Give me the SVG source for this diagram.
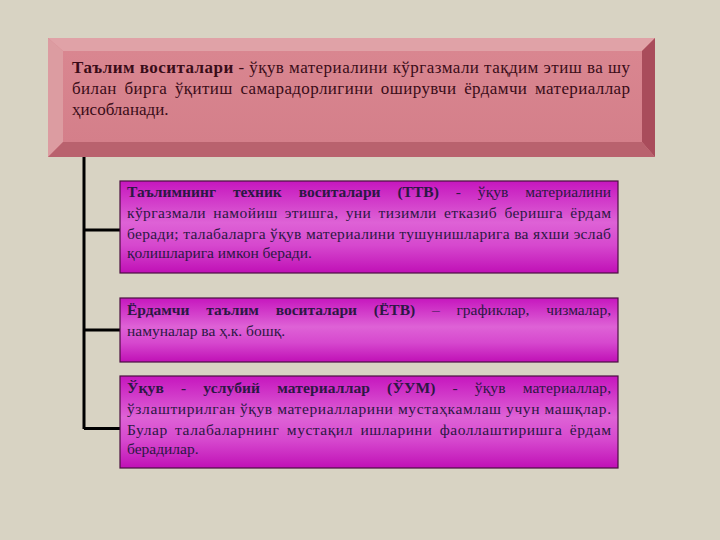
<svg xmlns="http://www.w3.org/2000/svg" width="720" height="540" viewBox="0 0 720 540">
<defs>
<style>
.t{font-family:"Liberation Serif","Times New Roman",serif;}
.top{font-size:17px;fill:#3a0c18;}
.bx{font-size:15.5px;fill:#2c1844;}
.b{font-weight:bold;}
.ws{word-spacing:13px;}
.ws2{word-spacing:3px;}
.conn{stroke:#000;stroke-width:3;fill:none;}
.mag{fill:url(#magGrad);stroke:#4a1040;stroke-width:1.2;}
</style>
<linearGradient id="magGrad" x1="0" y1="0" x2="0" y2="1">
<stop offset="0" stop-color="#c616be"/>
<stop offset="0.45" stop-color="#de62d6"/>
<stop offset="0.7" stop-color="#d648ce"/>
<stop offset="1" stop-color="#c010b6"/>
</linearGradient>
<linearGradient id="faceGrad" x1="0" y1="0" x2="0" y2="1">
<stop offset="0" stop-color="#d98690"/>
<stop offset="1" stop-color="#d47f8a"/>
</linearGradient>
</defs>
<rect width="720" height="540" fill="#d8d3c3"/>
<g id="connectors">
<path class="conn" d="M84 157 V429"/>
<path class="conn" d="M84 230 H120"/>
<path class="conn" d="M84 330 H120"/>
<path class="conn" d="M84 428.5 H120"/>
</g>
<g id="top-node">
<rect x="48" y="38" width="607" height="119" fill="#d8868f"/>
<polygon points="48,38 655,38 642,51 63,51" fill="#e0a2a7"/>
<polygon points="48,38 63,51 63,142 48,157" fill="#dc9ca1"/>
<polygon points="655,38 655,157 642,142 642,51" fill="#a94c5b"/>
<polygon points="48,157 655,157 642,142 63,142" fill="#b9626e"/>
<rect x="63" y="51" width="579" height="91" fill="url(#faceGrad)"/>
<text class="t top" x="72" y="73" textLength="558" lengthAdjust="spacing"><tspan class="b">Таълим воситалари</tspan> - ўқув материалини кўргазмали тақдим этиш ва шу</text>
<text class="t top ws2" x="72" y="94" textLength="558" lengthAdjust="spacing">билан бирга ўқитиш самарадорлигини оширувчи ёрдамчи материаллар</text>
<text class="t top" x="72" y="115">ҳисобланади.</text>
</g>
<g id="node-ttv">
<rect class="mag" x="120" y="181" width="498" height="92"/>
<text class="t bx ws" x="127" y="197" textLength="484" lengthAdjust="spacing"><tspan class="b">Таълимнинг техник воситалари (ТТВ)</tspan> - ўқув материалини</text>
<text class="t bx ws2" x="127" y="218" textLength="484" lengthAdjust="spacing">кўргазмали намойиш этишга, уни тизимли етказиб беришга ёрдам</text>
<text class="t bx" x="127" y="239" textLength="484" lengthAdjust="spacing">беради; талабаларга ўқув материалини тушунишларига ва яхши эслаб</text>
<text class="t bx" x="127" y="258">қолишларига имкон беради.</text>
</g>
<g id="node-etv">
<rect class="mag" x="120" y="298" width="498" height="64"/>
<text class="t bx ws" x="127" y="315" textLength="484" lengthAdjust="spacing"><tspan class="b">Ёрдамчи таълим воситалари (ЁТВ)</tspan> – графиклар, чизмалар,</text>
<text class="t bx" x="127" y="336">намуналар ва ҳ.к. бошқ.</text>
</g>
<g id="node-uum">
<rect class="mag" x="120" y="376" width="498" height="92"/>
<text class="t bx ws" x="127" y="393" textLength="484" lengthAdjust="spacing"><tspan class="b">Ўқув - услубий материаллар (ЎУМ)</tspan> - ўқув материаллар,</text>
<text class="t bx" x="127" y="414" textLength="484" lengthAdjust="spacing">ўзлаштирилган ўқув материалларини мустаҳкамлаш учун машқлар.</text>
<text class="t bx ws2" x="127" y="435" textLength="484" lengthAdjust="spacing">Булар талабаларнинг мустақил ишларини фаоллаштиришга ёрдам</text>
<text class="t bx" x="127" y="454">берадилар.</text>
</g>
</svg>
